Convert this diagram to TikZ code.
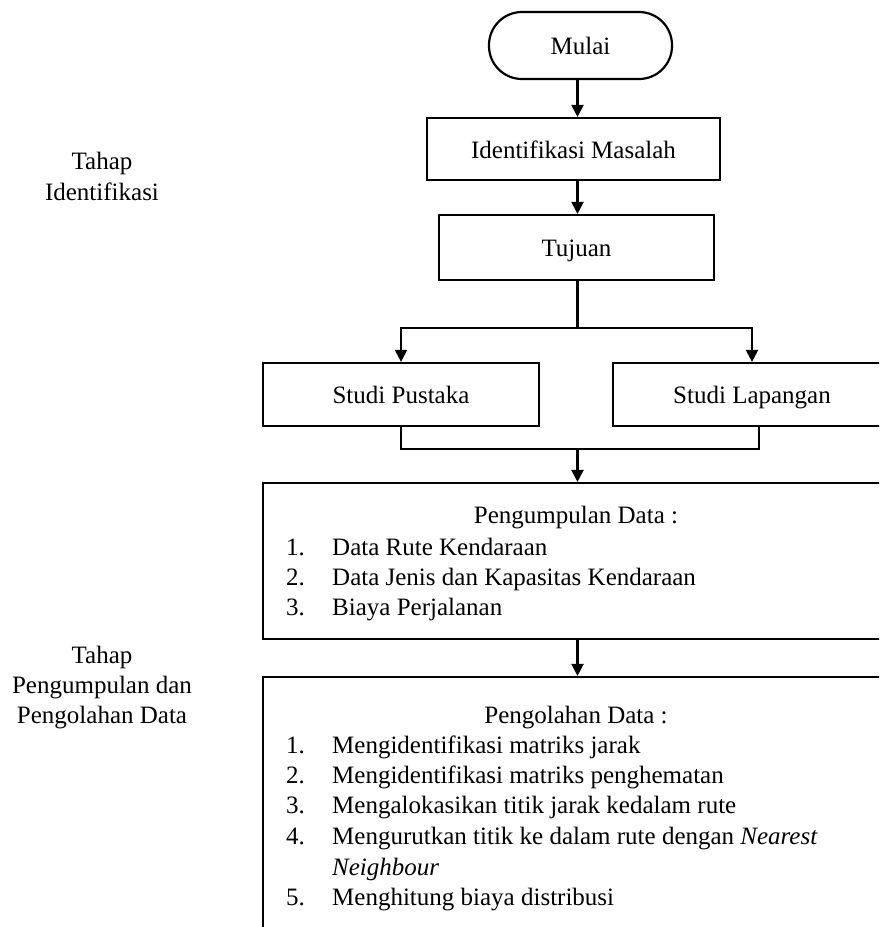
\documentclass[tikz,border=0pt]{standalone}
\usepackage{fontspec}
\setmainfont{Liberation Serif}
\usetikzlibrary{arrows.meta}
\begin{document}
\begin{tikzpicture}[x=1pt,y=-1pt,
  font=\fontsize{25pt}{30pt}\selectfont,
  box/.style={draw,line width=2.2pt,inner sep=0pt,text height=18pt,text depth=0pt},
  conn/.style={line width=2.2pt},
  arr/.style={conn,-{Triangle[length=12pt,width=12pt]}},
  lbl/.style={anchor=base,inner sep=0pt},
  num/.style={anchor=base west,inner sep=0pt},
  itm/.style={anchor=base west,inner sep=0pt}]
\useasboundingbox (0,0) rectangle (879,927);
\clip (0,0) rectangle (879,927);

% boxes
\node[box,rounded corners=33pt,minimum width=183pt,minimum height=67pt] (mulai) at (580.5,45.5) {Mulai};
\node[box,minimum width=293pt,minimum height=62pt] (idm) at (573.5,149) {Identifikasi Masalah};
\node[box,minimum width=275pt,minimum height=65pt] (tuj) at (576.5,247.5) {Tujuan};
\node[box,minimum width=276pt,minimum height=63pt] (sp) at (401,394.5) {Studi Pustaka};
\node[box,minimum width=278pt,minimum height=63pt] (sl) at (752,394.5) {Studi Lapangan};
\node[box,minimum width=626pt,minimum height=156pt] (pg) at (576,561) {};
\node[box,minimum width=626pt,minimum height=283pt] (po) at (576,818.5) {};

% Pengumpulan content
\node[lbl] (pgt) at (576,523) {Pengumpulan Data :};
\node[num] (pgn1) at (286,555) {1.};
\node[itm] (pgi1) at (332,555) {Data Rute Kendaraan};
\node[num] (pgn2) at (286,585) {2.};
\node[itm] (pgi2) at (332,585) {Data Jenis dan Kapasitas Kendaraan};
\node[num] (pgn3) at (286,615) {3.};
\node[itm] (pgi3) at (332,615) {Biaya Perjalanan};

% Pengolahan content
\node[lbl] (pot) at (576,723) {Pengolahan Data :};
\node[num] (pon1) at (286,753) {1.};
\node[itm] (poi1) at (332,753) {Mengidentifikasi matriks jarak};
\node[num] (pon2) at (286,783) {2.};
\node[itm] (poi2) at (332,783) {Mengidentifikasi matriks penghematan};
\node[num] (pon3) at (286,813) {3.};
\node[itm] (poi3) at (332,813) {Mengalokasikan titik jarak kedalam rute};
\node[num] (pon4) at (286,844) {4.};
\node[itm] (poi4) at (332,844) {Mengurutkan titik ke dalam rute dengan \textit{Nearest}};
\node[itm] (poi4b) at (332,875) {\textit{Neighbour}};
\node[num] (pon5) at (286,905) {5.};
\node[itm] (poi5) at (332,905) {Menghitung biaya distribusi};

% left stage labels
\node[lbl] (ta1) at (102,169) {Tahap};
\node[lbl] (ta2) at (102,200) {Identifikasi};
\node[lbl] (tb1) at (102,663) {Tahap};
\node[lbl] (tb2) at (102,693) {Pengumpulan dan};
\node[lbl] (tb3) at (102,723) {Pengolahan Data};

% connectors
\coordinate (ax) at (577.5,0);
\draw[arr] (ax |- mulai.south) -- (ax |- idm.north);
\draw[arr] (ax |- idm.south) -- (ax |- tuj.north);
\coordinate (br) at (577.5,328);
\draw[conn] (ax |- tuj.south) -- (br);
\draw[arr] (br) -| (sp.north);
\draw[arr] (br) -| (sl.north);
\coordinate (mgl) at (401,449);
\coordinate (mgr) at (759,449);
\draw[conn] (sp.south) -- (mgl) -- (mgr) -- (mgr |- sl.south);
\draw[arr] (ax |- mgl) -- (ax |- pg.north);
\draw[arr] (ax |- pg.south) -- (ax |- po.north);
\end{tikzpicture}
\end{document}
